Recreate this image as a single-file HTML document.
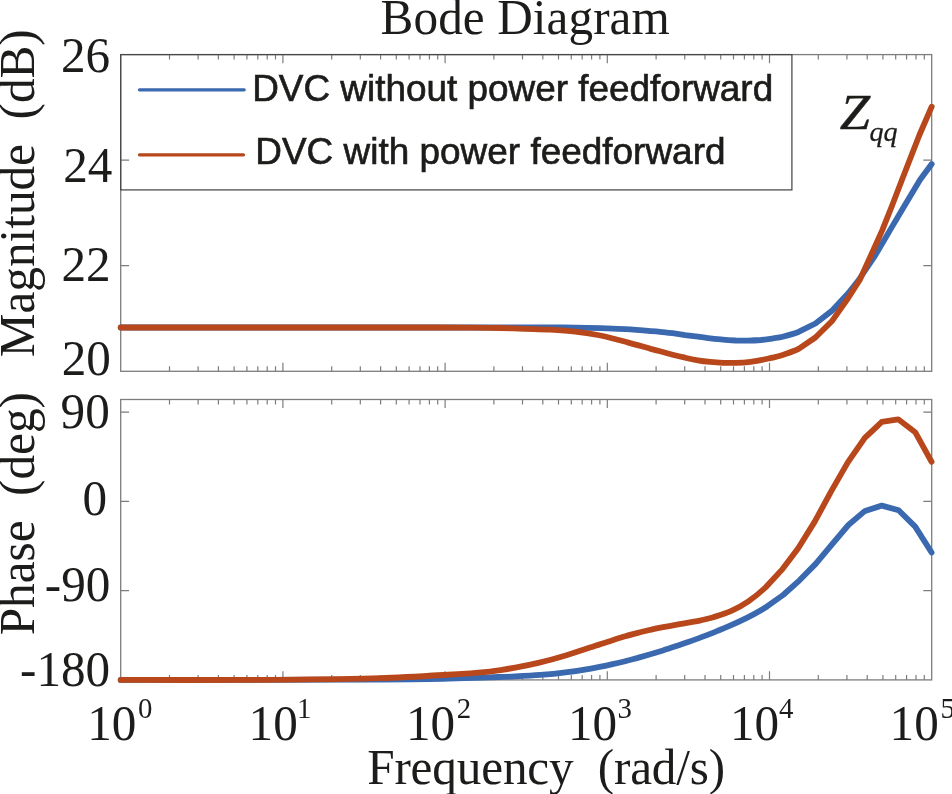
<!DOCTYPE html>
<html lang="en">
<head>
<meta charset="utf-8">
<title>Bode Diagram</title>
<style>
html,body{margin:0;padding:0;background:#fff;}
body{width:952px;height:794px;overflow:hidden;font-family:"Liberation Serif",serif;}
svg{display:block;}
</style>
</head>
<body>
<svg width="952" height="794" viewBox="0 0 952 794">
<rect x="0" y="0" width="952" height="794" fill="#ffffff"/>
<g opacity="0.999">
<rect x="120.7" y="54.6" width="811.0" height="316.7" fill="none" stroke="#7d7d7d" stroke-width="1.3"/>
<path d="M169.5,371.3v-5.0M169.5,54.6v5.0M198.1,371.3v-5.0M198.1,54.6v5.0M218.4,371.3v-5.0M218.4,54.6v5.0M234.1,371.3v-5.0M234.1,54.6v5.0M246.9,371.3v-5.0M246.9,54.6v5.0M257.8,371.3v-5.0M257.8,54.6v5.0M267.2,371.3v-5.0M267.2,54.6v5.0M275.5,371.3v-5.0M275.5,54.6v5.0M282.9,371.3v-8.6M282.9,54.6v8.6M331.7,371.3v-5.0M331.7,54.6v5.0M360.3,371.3v-5.0M360.3,54.6v5.0M380.6,371.3v-5.0M380.6,54.6v5.0M396.3,371.3v-5.0M396.3,54.6v5.0M409.1,371.3v-5.0M409.1,54.6v5.0M420.0,371.3v-5.0M420.0,54.6v5.0M429.4,371.3v-5.0M429.4,54.6v5.0M437.7,371.3v-5.0M437.7,54.6v5.0M445.1,371.3v-8.6M445.1,54.6v8.6M493.9,371.3v-5.0M493.9,54.6v5.0M522.5,371.3v-5.0M522.5,54.6v5.0M542.8,371.3v-5.0M542.8,54.6v5.0M558.5,371.3v-5.0M558.5,54.6v5.0M571.3,371.3v-5.0M571.3,54.6v5.0M582.2,371.3v-5.0M582.2,54.6v5.0M591.6,371.3v-5.0M591.6,54.6v5.0M599.9,371.3v-5.0M599.9,54.6v5.0M607.3,371.3v-8.6M607.3,54.6v8.6M656.1,371.3v-5.0M656.1,54.6v5.0M684.7,371.3v-5.0M684.7,54.6v5.0M705.0,371.3v-5.0M705.0,54.6v5.0M720.7,371.3v-5.0M720.7,54.6v5.0M733.5,371.3v-5.0M733.5,54.6v5.0M744.4,371.3v-5.0M744.4,54.6v5.0M753.8,371.3v-5.0M753.8,54.6v5.0M762.1,371.3v-5.0M762.1,54.6v5.0M769.5,371.3v-8.6M769.5,54.6v8.6M818.3,371.3v-5.0M818.3,54.6v5.0M846.9,371.3v-5.0M846.9,54.6v5.0M867.2,371.3v-5.0M867.2,54.6v5.0M882.9,371.3v-5.0M882.9,54.6v5.0M895.7,371.3v-5.0M895.7,54.6v5.0M906.6,371.3v-5.0M906.6,54.6v5.0M916.0,371.3v-5.0M916.0,54.6v5.0M924.3,371.3v-5.0M924.3,54.6v5.0M120.7,160.2h8.4M931.7,160.2h-8.4M120.7,265.7h8.4M931.7,265.7h-8.4" fill="none" stroke="#7d7d7d" stroke-width="1.2"/>
<rect x="120.7" y="399.5" width="811.0" height="280.4" fill="none" stroke="#7d7d7d" stroke-width="1.3"/>
<path d="M169.5,679.9v-5.0M169.5,399.5v5.0M198.1,679.9v-5.0M198.1,399.5v5.0M218.4,679.9v-5.0M218.4,399.5v5.0M234.1,679.9v-5.0M234.1,399.5v5.0M246.9,679.9v-5.0M246.9,399.5v5.0M257.8,679.9v-5.0M257.8,399.5v5.0M267.2,679.9v-5.0M267.2,399.5v5.0M275.5,679.9v-5.0M275.5,399.5v5.0M282.9,679.9v-8.6M282.9,399.5v8.6M331.7,679.9v-5.0M331.7,399.5v5.0M360.3,679.9v-5.0M360.3,399.5v5.0M380.6,679.9v-5.0M380.6,399.5v5.0M396.3,679.9v-5.0M396.3,399.5v5.0M409.1,679.9v-5.0M409.1,399.5v5.0M420.0,679.9v-5.0M420.0,399.5v5.0M429.4,679.9v-5.0M429.4,399.5v5.0M437.7,679.9v-5.0M437.7,399.5v5.0M445.1,679.9v-8.6M445.1,399.5v8.6M493.9,679.9v-5.0M493.9,399.5v5.0M522.5,679.9v-5.0M522.5,399.5v5.0M542.8,679.9v-5.0M542.8,399.5v5.0M558.5,679.9v-5.0M558.5,399.5v5.0M571.3,679.9v-5.0M571.3,399.5v5.0M582.2,679.9v-5.0M582.2,399.5v5.0M591.6,679.9v-5.0M591.6,399.5v5.0M599.9,679.9v-5.0M599.9,399.5v5.0M607.3,679.9v-8.6M607.3,399.5v8.6M656.1,679.9v-5.0M656.1,399.5v5.0M684.7,679.9v-5.0M684.7,399.5v5.0M705.0,679.9v-5.0M705.0,399.5v5.0M720.7,679.9v-5.0M720.7,399.5v5.0M733.5,679.9v-5.0M733.5,399.5v5.0M744.4,679.9v-5.0M744.4,399.5v5.0M753.8,679.9v-5.0M753.8,399.5v5.0M762.1,679.9v-5.0M762.1,399.5v5.0M769.5,679.9v-8.6M769.5,399.5v8.6M818.3,679.9v-5.0M818.3,399.5v5.0M846.9,679.9v-5.0M846.9,399.5v5.0M867.2,679.9v-5.0M867.2,399.5v5.0M882.9,679.9v-5.0M882.9,399.5v5.0M895.7,679.9v-5.0M895.7,399.5v5.0M906.6,679.9v-5.0M906.6,399.5v5.0M916.0,679.9v-5.0M916.0,399.5v5.0M924.3,679.9v-5.0M924.3,399.5v5.0M120.7,412.2h8.4M931.7,412.2h-8.4M120.7,501.4h8.4M931.7,501.4h-8.4M120.7,590.7h8.4M931.7,590.7h-8.4" fill="none" stroke="#7d7d7d" stroke-width="1.2"/>
<path d="M120.7,327.5C213.8,327.5 306.9,327.5 400.0,327.5C423.3,327.5 446.7,327.5 470.0,327.5C496.7,327.5 523.3,327.5 550.0,327.5C558.3,327.5 566.7,327.5 575.0,327.6C583.5,327.7 591.9,327.9 600.4,328.2C608.8,328.5 617.2,328.7 625.6,329.2C634.0,329.7 642.4,330.4 650.8,331.1C653.9,331.3 656.9,331.5 660.0,331.8C664.2,332.2 668.4,332.7 672.6,333.2C676.8,333.8 681.0,334.5 685.2,335.1C689.4,335.6 693.6,336.2 697.8,336.7C702.0,337.3 706.2,337.9 710.4,338.4C714.6,338.9 718.8,339.4 723.0,339.7C727.2,340.1 731.4,340.3 735.6,340.5C739.8,340.6 744.0,340.7 748.2,340.6C752.4,340.5 756.6,340.3 760.8,340.0C765.0,339.6 769.2,338.9 773.4,338.3C776.5,337.8 779.5,337.5 782.6,336.7C788.1,335.3 793.5,333.9 799.0,331.7L815.4,323.5L831.8,310.9L848.2,293.3L858.7,280.0L875.1,255.6L889.9,230.4L904.8,205.2L919.9,180.0L931.7,164.0" fill="none" stroke="#3a69b0" stroke-width="5.8" stroke-linecap="round" stroke-linejoin="round"/>
<path d="M120.7,327.5C213.8,327.5 306.9,327.5 400.0,327.5C423.3,327.5 446.7,327.4 470.0,327.6C480.0,327.6 490.0,327.8 500.0,328.0C508.3,328.2 516.7,328.5 525.0,328.8C533.3,329.1 541.7,329.2 550.0,329.7C558.4,330.2 566.8,330.7 575.2,331.7C583.6,332.7 592.0,333.9 600.4,335.5C608.8,337.2 617.2,339.5 625.6,341.8C634.0,344.0 642.4,346.5 650.8,348.9C653.9,349.7 656.9,350.5 660.0,351.3C664.2,352.4 668.4,353.6 672.6,354.7C676.8,355.8 681.0,356.8 685.2,357.7C689.4,358.7 693.6,359.6 697.8,360.3C702.0,361.0 706.2,361.5 710.4,361.9C714.6,362.3 718.8,362.6 723.0,362.8C727.2,363.0 731.4,363.0 735.6,362.9C739.8,362.8 744.0,362.7 748.2,362.2C752.4,361.8 756.6,361.0 760.8,360.2C763.9,359.6 766.9,358.9 770.0,358.2C774.2,357.2 778.4,356.2 782.6,354.9C788.1,353.0 793.5,351.5 799.0,348.6L815.4,337.5L831.8,321.3L848.2,298.0L859.7,280.0L870.8,255.6L882.2,230.4L892.2,205.2L901.9,180.0L919.4,135.0L931.7,106.7" fill="none" stroke="#b8481b" stroke-width="5.8" stroke-linecap="round" stroke-linejoin="round"/>
<path d="M120.7,679.9C207.1,679.8 293.6,680.0 380.0,679.7C401.0,679.6 422.0,679.3 443.0,678.8C458.7,678.5 474.3,677.8 490.0,677.3C498.4,677.0 506.8,676.8 515.2,676.4C523.6,676.0 532.0,675.6 540.4,674.9C548.8,674.3 557.2,673.5 565.6,672.4C574.0,671.4 582.4,670.1 590.8,668.6C598.1,667.4 605.3,665.8 612.6,664.2C616.8,663.3 621.0,662.3 625.2,661.2C629.4,660.2 633.6,659.0 637.8,657.9C642.0,656.7 646.2,655.5 650.4,654.3C654.6,653.0 658.8,651.7 663.0,650.4C667.2,649.1 671.4,647.7 675.6,646.3C679.8,644.9 684.0,643.5 688.2,642.0C692.4,640.5 696.6,639.0 700.8,637.4C705.0,635.9 709.2,634.3 713.4,632.6C718.6,630.5 723.7,628.5 728.9,626.2C735.2,623.4 741.5,620.6 747.8,617.4C754.1,614.1 760.4,610.7 766.7,606.7L783.1,595.0L799.5,580.3L815.9,563.6L832.0,544.3L848.4,525.0L865.0,510.9L881.8,505.6L898.6,510.3L915.2,526.6L931.6,552.5" fill="none" stroke="#3a69b0" stroke-width="5.8" stroke-linecap="round" stroke-linejoin="round"/>
<path d="M120.7,679.9C167.1,679.9 213.6,680.2 260.0,679.9C300.0,679.6 340.0,679.3 380.0,678.2C401.0,677.6 422.0,676.3 443.0,675.0C458.7,674.1 474.3,673.2 490.0,671.6C498.4,670.7 506.8,669.2 515.2,667.7C523.6,666.2 532.0,664.4 540.4,662.4C548.8,660.4 557.2,658.0 565.6,655.5C574.0,652.9 582.4,650.1 590.8,647.3C598.1,645.0 605.3,642.5 612.6,640.2C616.8,638.8 621.0,637.6 625.2,636.3C629.4,635.1 633.6,634.0 637.8,632.9C642.0,631.8 646.2,630.8 650.4,629.8C654.6,628.9 658.8,628.0 663.0,627.2C667.2,626.4 671.4,625.7 675.6,624.9C679.8,624.2 684.0,623.5 688.2,622.7C692.4,621.9 696.6,621.2 700.8,620.3C705.0,619.3 709.2,618.5 713.4,617.2C719.4,615.3 725.4,613.5 731.4,610.8C737.1,608.2 742.7,605.2 748.4,601.3C754.1,597.4 759.8,592.8 765.5,587.5L782.5,569.1L798.2,548.2L814.6,521.9L831.0,491.6L847.8,462.4L864.8,437.9L881.8,421.9L898.2,419.3L915.2,432.2L931.6,461.8" fill="none" stroke="#b8481b" stroke-width="5.8" stroke-linecap="round" stroke-linejoin="round"/>
<rect x="120.7" y="54.6" width="671.2" height="135.3" fill="none" stroke="#484848" stroke-width="1.25"/>
<line x1="139.5" y1="89.8" x2="244.2" y2="89.8" stroke="#3a69b0" stroke-width="3.3" stroke-linecap="round"/>
<line x1="139.5" y1="154.8" x2="243.5" y2="154.8" stroke="#b8481b" stroke-width="3.3" stroke-linecap="round"/>
<text transform="translate(252.2,101.3) scale(1,1.0)" font-family='"Liberation Sans", sans-serif' font-size="36.9" text-anchor="start" fill="#1c1c1a" textLength="521.0" lengthAdjust="spacing" stroke="#1c1c1a" stroke-width="0.65">DVC without power feedforward</text>
<text transform="translate(255.3,164.4) scale(1,1.0)" font-family='"Liberation Sans", sans-serif' font-size="36.9" text-anchor="start" fill="#1c1c1a" textLength="470.2" lengthAdjust="spacing" stroke="#1c1c1a" stroke-width="0.65">DVC with power feedforward</text>
<text transform="translate(380.6,33.8) scale(1,1.02)" font-family='"Liberation Serif", serif' font-size="49.2" text-anchor="start" fill="#1c1c1a" textLength="289.2" lengthAdjust="spacing">Bode Diagram</text>
<text transform="translate(61.0,71.9) scale(1,1.05)" font-family='"Liberation Serif", serif' font-size="49.2" text-anchor="start" fill="#1c1c1a" >26</text>
<text transform="translate(63.2,181.7) scale(1,1.05)" font-family='"Liberation Serif", serif' font-size="49.2" text-anchor="start" fill="#1c1c1a" >24</text>
<text transform="translate(61.5,281.4) scale(1,1.05)" font-family='"Liberation Serif", serif' font-size="49.2" text-anchor="start" fill="#1c1c1a" >22</text>
<text transform="translate(61.7,374.5) scale(1,1.05)" font-family='"Liberation Serif", serif' font-size="49.2" text-anchor="start" fill="#1c1c1a" >20</text>
<text transform="translate(60.6,427.6) scale(1,1.05)" font-family='"Liberation Serif", serif' font-size="49.2" text-anchor="start" fill="#1c1c1a" >90</text>
<text transform="translate(82.6,515.0) scale(1,1.05)" font-family='"Liberation Serif", serif' font-size="49.2" text-anchor="start" fill="#1c1c1a" >0</text>
<text transform="translate(44.8,600.9) scale(1,1.05)" font-family='"Liberation Serif", serif' font-size="49.2" text-anchor="start" fill="#1c1c1a" >-90</text>
<text transform="translate(20.0,686.3) scale(1,1.05)" font-family='"Liberation Serif", serif' font-size="49.2" text-anchor="start" fill="#1c1c1a" >-180</text>
<text transform="translate(87.2,740.0) scale(1,1.05)" font-family='"Liberation Serif", serif' font-size="49.2" text-anchor="start" fill="#1c1c1a" >10</text><text transform="translate(137.9,718.2) scale(1,1.05)" font-family='"Liberation Serif", serif' font-size="28.8" text-anchor="start" fill="#1c1c1a" >0</text>
<text transform="translate(248.6,740.0) scale(1,1.05)" font-family='"Liberation Serif", serif' font-size="49.2" text-anchor="start" fill="#1c1c1a" >10</text><text transform="translate(297.0,718.2) scale(1,1.05)" font-family='"Liberation Serif", serif' font-size="28.8" text-anchor="start" fill="#1c1c1a" >1</text>
<text transform="translate(406.0,740.0) scale(1,1.05)" font-family='"Liberation Serif", serif' font-size="49.2" text-anchor="start" fill="#1c1c1a" >10</text><text transform="translate(456.8,718.2) scale(1,1.05)" font-family='"Liberation Serif", serif' font-size="28.8" text-anchor="start" fill="#1c1c1a" >2</text>
<text transform="translate(568.0,740.0) scale(1,1.05)" font-family='"Liberation Serif", serif' font-size="49.2" text-anchor="start" fill="#1c1c1a" >10</text><text transform="translate(617.4,718.2) scale(1,1.05)" font-family='"Liberation Serif", serif' font-size="28.8" text-anchor="start" fill="#1c1c1a" >3</text>
<text transform="translate(730.0,740.0) scale(1,1.05)" font-family='"Liberation Serif", serif' font-size="49.2" text-anchor="start" fill="#1c1c1a" >10</text><text transform="translate(779.0,718.2) scale(1,1.05)" font-family='"Liberation Serif", serif' font-size="28.8" text-anchor="start" fill="#1c1c1a" >4</text>
<text transform="translate(889.6,740.0) scale(1,1.05)" font-family='"Liberation Serif", serif' font-size="49.2" text-anchor="start" fill="#1c1c1a" >10</text><text transform="translate(940.5,718.2) scale(1,1.05)" font-family='"Liberation Serif", serif' font-size="28.8" text-anchor="start" fill="#1c1c1a" >5</text>
<text transform="translate(367.2,783.5) scale(1,1.02)" font-family='"Liberation Serif", serif' font-size="49.2" text-anchor="start" fill="#1c1c1a" xml:space="preserve" textLength="358.0" lengthAdjust="spacing">Frequency&#160;&#160;(rad/s)</text>
<text transform="translate(33.9,357.2) rotate(-90) scale(1,1.02)" font-family='"Liberation Serif", serif' font-size="49.2" fill="#1c1c1a" xml:space="preserve">Magnitude&#160;&#160;(dB)</text>
<text transform="translate(33.9,635.3) rotate(-90) scale(1,1.02)" font-family='"Liberation Serif", serif' font-size="49.2" fill="#1c1c1a" xml:space="preserve">Phase&#160;&#160;(deg)</text>
<text transform="translate(839.7,128.6) scale(1.06,1)" font-family='"Liberation Serif", serif' font-style="italic" font-size="51.5" fill="#1c1c1a" stroke="#1c1c1a" stroke-width="0.4">Z</text>
<text x="869.5" y="141.2" font-family='"Liberation Serif", serif' font-style="italic" font-size="28.0" fill="#1c1c1a" stroke="#1c1c1a" stroke-width="0.3">qq</text>
</g>
</svg>
</body>
</html>
